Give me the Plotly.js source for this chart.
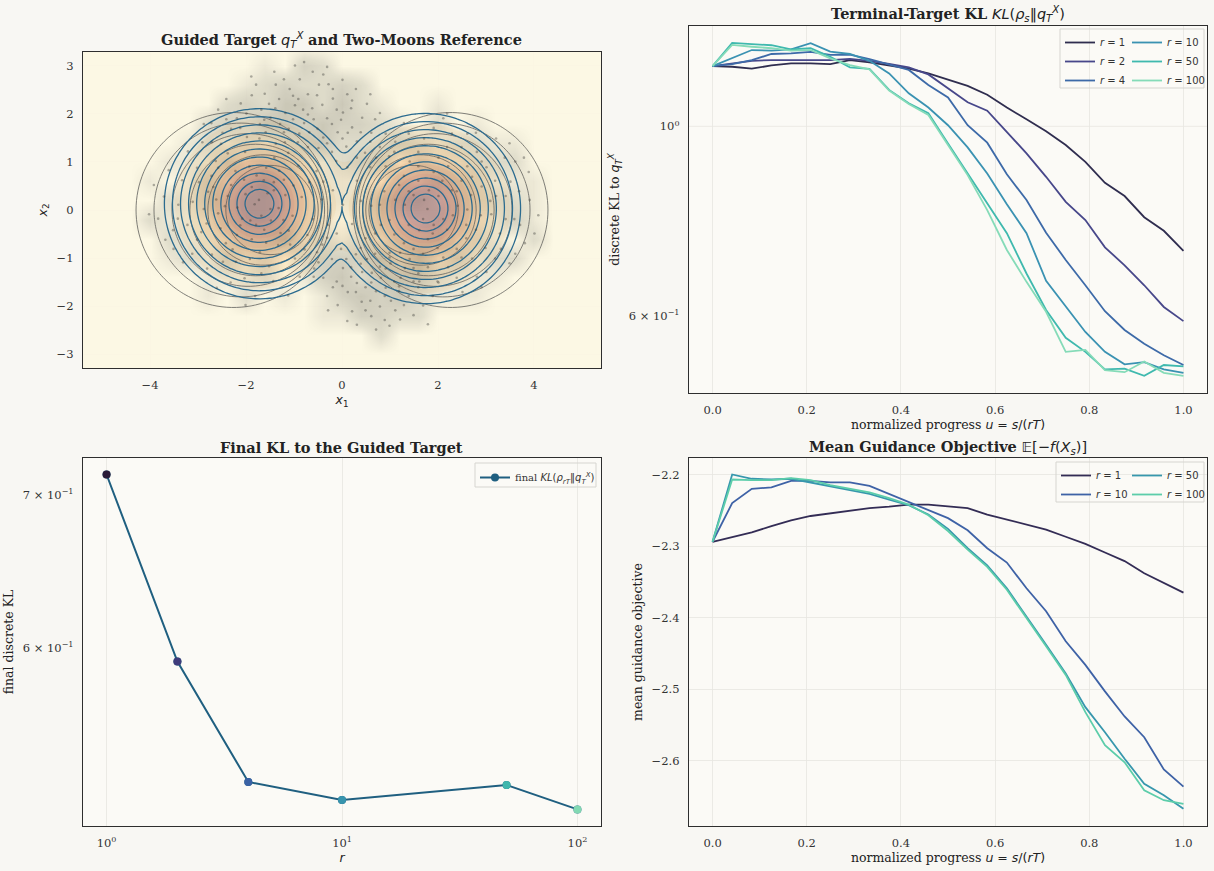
<!DOCTYPE html>
<html><head><meta charset="utf-8">
<script src="https://cdn.plot.ly/plotly-3.0.1.min.js"></script>
<style>html,body{margin:0;padding:0;background:#f8f7f3;}#chart{width:1214px;height:871px;}</style>
</head><body><div id="chart"></div>
<script>
// ---------------- data ----------------
const progressU = [0, 0.0417, 0.0833, 0.125, 0.1667, 0.2083, 0.25, 0.2917, 0.3333, 0.375, 0.4167, 0.4583, 0.5, 0.5417, 0.5833, 0.625, 0.6667, 0.7083, 0.75, 0.7917, 0.8333, 0.875, 0.9167, 0.9583, 1.0];

const klR1   = [1.176,1.174,1.168,1.178,1.185,1.185,1.182,1.195,1.188,1.178,1.168,1.153,1.133,1.115,1.089,1.052,1.019,0.987,0.951,0.909,0.859,0.829,0.783,0.755,0.715];
const klR2   = [1.176,1.185,1.193,1.195,1.195,1.194,1.195,1.199,1.193,1.183,1.172,1.150,1.108,1.067,1.043,0.986,0.930,0.873,0.816,0.777,0.722,0.688,0.652,0.615,0.592];
const klR4   = [1.176,1.182,1.195,1.215,1.217,1.222,1.212,1.213,1.198,1.182,1.164,1.118,1.081,1.003,0.957,0.879,0.820,0.751,0.698,0.652,0.608,0.578,0.557,0.540,0.526];
const klR10  = [1.176,1.201,1.228,1.226,1.230,1.251,1.223,1.215,1.193,1.153,1.093,1.052,1.003,0.945,0.881,0.811,0.750,0.660,0.615,0.575,0.545,0.527,0.530,0.520,0.515];
const klR50  = [1.176,1.252,1.248,1.244,1.230,1.234,1.206,1.172,1.167,1.103,1.064,1.036,0.955,0.881,0.813,0.750,0.673,0.610,0.566,0.545,0.520,0.521,0.511,0.526,0.524];
const klR100 = [1.176,1.245,1.239,1.234,1.226,1.228,1.201,1.179,1.166,1.101,1.062,1.031,0.951,0.877,0.798,0.717,0.658,0.607,0.545,0.548,0.519,0.516,0.531,0.515,0.511];

const objR1   = [-2.294,-2.287,-2.281,-2.272,-2.264,-2.258,-2.254,-2.250,-2.247,-2.245,-2.242,-2.242,-2.244,-2.247,-2.256,-2.263,-2.269,-2.277,-2.287,-2.297,-2.309,-2.321,-2.338,-2.351,-2.365];
const objR10  = [-2.294,-2.240,-2.220,-2.218,-2.209,-2.209,-2.211,-2.211,-2.216,-2.227,-2.239,-2.250,-2.261,-2.278,-2.303,-2.323,-2.359,-2.391,-2.433,-2.466,-2.503,-2.538,-2.567,-2.612,-2.636];
const objR50  = [-2.294,-2.200,-2.206,-2.207,-2.206,-2.211,-2.217,-2.222,-2.227,-2.235,-2.243,-2.256,-2.276,-2.303,-2.327,-2.359,-2.398,-2.438,-2.478,-2.525,-2.560,-2.597,-2.632,-2.648,-2.667];
const objR100 = [-2.294,-2.207,-2.208,-2.208,-2.205,-2.208,-2.215,-2.220,-2.225,-2.233,-2.242,-2.257,-2.279,-2.305,-2.329,-2.361,-2.400,-2.440,-2.480,-2.532,-2.578,-2.602,-2.641,-2.655,-2.660];

const finalR  = [1, 2, 4, 10, 50, 100];
const finalKL = [0.7148, 0.5920, 0.5243, 0.5148, 0.5227, 0.5100];

const modeCenters = [[-1.72, 0.13], [1.74, 0.03]];
const fillSigma = 0.74;
const blueSigma = 0.46;
const moonCore = 0.84;
const moonShift = 0.7;

// approximate sample cloud read from panel 1
const samplePoints = [
[-1.82,0.12],[-1.55,0.35],[-2.08,-0.18],[-1.62,-0.41],[-2.31,0.52],[-1.21,0.63],[-2.58,-0.07],[-1.03,-0.12],[-1.93,0.91],[-1.71,-0.88],[-2.79,0.38],[-0.84,0.27],[-2.42,-0.69],[-1.33,-0.73],[-2.02,1.21],[-1.41,1.09],[-2.93,-0.46],[-0.72,-0.52],[-2.21,-1.08],[-1.12,1.19],[-3.11,0.17],[-0.53,0.81],[-2.63,1.02],[-1.52,-1.17],[-1.88,-0.61],[-2.01,0.33],[-1.63,0.62],[-2.44,0.08],[-1.32,0.04],[-1.11,-0.43],[-2.71,-0.93],[-3.22,-0.31],[-0.91,0.92],[-2.52,1.38],[-1.72,1.49],[-0.98,-1.01],[-2.03,-1.42],[-3.02,0.88],[-0.61,-0.19],[-3.41,0.11],[-1.43,-1.48],[-2.32,-1.51],[-2.81,-1.22],[-1.21,1.62],[-0.71,1.31],[-3.33,0.62],[-3.52,-0.42],[-2.12,1.71],[-1.81,-1.79],[-0.88,-1.39],[-2.61,-1.62],[-3.12,-0.91],[-3.71,0.28],[-0.42,0.22],[-0.52,-0.88],[-2.91,1.41],[-1.62,1.88],[-2.22,0.81],[-1.91,-0.22],[-1.42,0.41],[-2.53,-0.38],[-1.22,-0.21],[-1.73,0.21],[-2.19,-0.52],[-1.49,0.02],[-2.04,0.63],[-1.79,-0.31],[-1.31,0.82],[-2.72,0.71],[-1.01,0.51],[-3.61,0.83],[-3.83,-0.18],[-3.31,-1.09],[-2.41,1.89],[-1.12,-1.78],[-0.31,-0.58],[-3.92,0.52],[-4.02,-0.09],[-2.01,-1.98],[-2.72,1.81],[-3.21,1.22],[-3.51,-0.81],[-1.58,0.88],[-2.38,0.29],[-1.68,-0.12],[-2.18,0.05],[-1.28,-0.48],[-1.92,-1.02],[-2.62,0.22],[-1.38,1.38],[-2.88,0.02],[-0.78,-0.82],[-1.58,-0.68],[-2.48,-1.08],[-0.68,0.58],[-3.02,-0.62],[-2.82,-0.28],[-1.98,1.52],[-1.18,0.31],[-2.28,-0.82],[-1.48,-0.22],[-1.88,0.48],[-2.68,0.48],[-3.42,-0.18],[-0.58,-1.22],[-2.98,0.58],[-3.68,-0.62],[-1.08,-0.72],[-2.38,1.18],[-1.78,0.72],[-1.68,-1.32],[-2.12,-0.32],[-1.42,0.58],[-2.58,0.88],
[-1.52,2.21],[-1.18,2.02],[-0.91,2.31],[-0.62,2.12],[-0.31,1.91],[0.02,2.03],[0.21,1.72],[-0.79,1.81],[-1.09,2.52],[-0.48,2.61],[-0.19,2.32],[0.11,2.41],[0.42,1.92],[0.31,1.43],[-0.09,1.62],[-0.39,1.51],[-0.68,1.62],[-1.29,1.79],[-1.68,2.09],[-1.99,2.01],[-2.31,1.69],[-1.88,2.39],[-1.38,2.61],[-0.88,2.72],[-0.61,2.88],[-0.98,3.01],[-0.28,2.62],[0.01,2.71],[0.52,2.21],[0.61,1.61],[0.79,1.31],[0.48,1.19],[0.09,1.32],[-0.21,1.21],[-0.49,1.29],[-0.92,1.41],[-1.19,1.41],[-1.59,1.62],[-2.49,1.61],[-2.58,2.09],[-1.79,2.61],[-0.71,2.41],[-0.41,2.19],[-0.11,2.09],[0.19,2.12],[-1.02,1.89],[-1.31,2.31],[-0.59,1.89],[-0.21,1.79],[0.01,1.49],[0.29,2.52],[0.69,1.89],[0.91,1.59],[-1.61,2.42],[-2.11,2.22],[-0.81,2.09],[-0.51,1.69],[-1.11,1.69],[0.39,1.62],[-0.31,1.39],[0.98,1.12],[0.71,1.09],[-1.41,2.88],[-0.79,3.08],[-1.21,2.72],[-0.39,2.82],[-2.19,1.91],[-2.71,1.41],[-1.49,1.92],[-0.98,2.18],[-0.71,1.99],[-0.19,2.52],[0.21,2.28],[0.59,2.41],[-1.71,1.79],[-2.41,2.31],[-0.02,1.88],[0.31,1.09],[0.59,1.42],[-0.12,1.02],[0.12,1.61],[-0.89,1.59],[-1.39,2.12],[-1.89,2.78],[-1.02,2.38],[-0.52,2.39],[0.79,2.02],[1.11,1.42],[-2.88,1.79],[-0.31,2.98],
[0.02,-1.21],[0.31,-1.52],[0.62,-1.31],[0.91,-1.62],[1.22,-1.41],[0.41,-1.91],[0.79,-2.01],[0.12,-1.71],[-0.21,-1.02],[-0.39,-1.41],[0.52,-1.02],[1.01,-1.11],[1.39,-1.79],[1.11,-2.09],[0.21,-2.11],[-0.11,-1.49],[0.71,-1.69],[1.31,-1.21],[-0.02,-0.81],[0.29,-0.92],[0.61,-2.21],[1.59,-1.61],[1.49,-2.19],[0.89,-2.29],[-0.31,-1.79],[0.42,-1.29],[0.81,-1.41],[1.02,-1.89],[0.19,-1.39],[-0.09,-1.98],[1.19,-1.69],[0.49,-1.61],[0.09,-1.02],[-0.49,-1.09],[1.69,-1.99],[1.79,-2.38],[0.69,-0.91],[1.41,-1.02],[0.91,-1.22],[0.31,-2.39],[1.09,-1.49],[0.59,-1.89],[-0.19,-1.61],[1.89,-1.79],[0.39,-1.12],[0.99,-2.41],[0.01,-1.58],[-0.41,-0.72],[1.29,-1.98],[0.79,-1.18],[0.19,-1.19],[0.61,-1.51],[1.21,-2.28],[0.11,-2.31],[0.49,-2.09],[1.59,-1.32],[-0.29,-2.09],[0.89,-1.79],[1.49,-1.49],[0.29,-1.71],[0.71,-2.49],[1.99,-1.49],[-0.59,-1.39],[0.99,-0.89],[0.39,-0.79],
[1.78,0.02],[1.49,0.31],[2.11,-0.19],[1.61,-0.42],[2.29,0.41],[1.19,0.52],[2.61,0.01],[0.99,-0.21],[1.91,0.79],[1.69,-0.91],[2.79,-0.41],[0.88,0.39],[2.39,-0.81],[1.29,-0.69],[2.01,1.09],[1.41,1.01],[2.91,0.49],[0.69,-0.49],[2.21,-1.19],[1.09,1.21],[3.11,-0.09],[0.59,0.89],[2.61,0.91],[1.49,-1.21],[1.89,-0.49],[2.01,0.29],[1.59,0.61],[2.41,0.09],[1.31,0.11],[1.09,-0.51],[2.71,-1.01],[3.21,0.29],[0.91,0.91],[2.49,1.31],[1.71,1.49],[0.99,-0.99],[2.01,-1.51],[3.01,0.89],[0.61,0.09],[3.41,-0.19],[1.39,1.59],[2.29,1.59],[2.81,1.21],[1.19,-1.59],[3.51,0.59],[3.71,-0.31],[3.31,-0.81],[3.01,-1.29],[2.51,-1.71],[3.91,0.21],[4.09,-0.11],[3.61,1.01],[2.11,1.91],[3.21,1.49],[2.91,-1.61],[3.49,-1.11],[1.81,0.41],[2.19,-0.41],[1.69,-0.19],[2.49,0.61],[1.39,-0.31],[2.31,-0.11],[1.99,-0.79],[1.59,0.91],[2.69,0.31],[1.29,0.71],[2.89,-0.11],[1.79,-1.19],[2.59,-0.59],[3.19,0.61],[0.79,0.11],[3.29,-0.49],[2.19,1.31],[1.91,1.71],[2.79,1.61],[3.69,0.39],[3.81,-0.69],[2.39,-1.41],[1.49,-0.81],[3.39,1.09],[2.99,-0.79],[1.11,0.21],[2.09,0.61],[1.71,0.21],[2.21,0.91],[2.59,-0.31],[3.59,-0.19],[1.21,-0.89],[1.91,-0.31],[2.49,-0.99],[3.09,0.19],[2.71,0.69],[3.89,0.79],[4.01,-0.49],[3.41,0.29],[1.59,1.21],[2.39,0.39],[1.79,-0.61],[2.11,-0.99],[2.91,1.01],[3.19,-1.01],[1.39,0.39],[0.81,-0.31],[2.61,1.59],[3.49,1.39],[3.79,1.09],[1.61,-1.49],[2.81,-1.39],[3.61,-0.91],[2.19,2.01],[1.29,1.81],
[0.02,0.11],[-0.19,0.41],[0.21,-0.29],[0.31,0.61],[-0.29,-0.31],[0.11,0.89],[0.39,0.19],[-0.11,-0.49],[-0.39,0.59],[0.49,-0.59]
];

const klLabels = ['1','2','4','10','50','100'];
const klColors = ['#2f2d4f','#47478a','#3d6aa8','#3a92b2','#3fb9ae','#85dbb8'];
const objLabels = ['1','10','50','100'];
const objColors = ['#332c55','#3e62a6','#3797ad','#5ccdaa'];
const finalColors = ['#2a1b38','#3f3b7b','#3a62a5','#3794ad','#3fb7ad','#82d9b3'];

// ---------------- contour grids ----------------
const gridX = []; for (let i = 0; i <= 116; i++) gridX.push(+(-5.8 + 0.1*i).toFixed(2));
const gridY = []; for (let j = 0; j <= 72; j++) gridY.push(+(-3.6 + 0.1*j).toFixed(2));

function fillField(x, y) {
  let s = 0;
  for (const c of modeCenters) { const dx = x-c[0], dy = y-c[1]; s += Math.exp(-(dx*dx+dy*dy)/(2*fillSigma*fillSigma)); }
  return s;
}
function blueField(x, y) {
  const a = modeCenters.map(c => { const dx = x-c[0], dy = y-c[1]; return -(dx*dx+dy*dy)/(2*blueSigma*blueSigma); });
  const m = Math.max(...a);
  const lse = m + Math.log(a.reduce((t, v) => t + Math.exp(v-m), 0));
  return Math.sqrt(Math.max(0, -2*blueSigma*blueSigma*lse));
}
function grayField(x, y) {
  const k = moonShift;
  let best = Infinity;
  for (const side of [-1, 1]) {
    const d = side*x - moonCore;
    const rho = (-k*d + Math.sqrt(k*k*d*d + (1-k*k)*(d*d + y*y)))/(1-k*k);
    best = Math.min(best, rho);
  }
  return best;
}
const zFill = gridY.map(y => gridX.map(x => fillField(x, y)));
const zBlue = gridY.map(y => gridX.map(x => blueField(x, y)));
const zGray = gridY.map(y => gridX.map(x => grayField(x, y)));

// ---------------- layout helpers ----------------
const W = 1214, H = 871;
const px = v => v / W, py = v => 1 - v / H;
const xL = [px(83), px(601)], xR = [px(689), px(1207)];
const yTL = [py(368), py(52)], yTR = [py(393), py(26)], yB = [py(826), py(458)];

const SERIF = 'DejaVu Serif', SANS = 'DejaVu Sans';
const m = s => `<span style="font-family:${SANS}">${s}</span>`;

const axisBase = {
  showline: true, mirror: true, linecolor: '#2e2e2e', linewidth: 1.2,
  ticks: '', showgrid: true, gridcolor: '#e7e6e1', gridwidth: 0.8, zeroline: false,
  tickfont: {family: SERIF, size: 11.5, color: '#333'}, automargin: false,
  ticklabelstandoff: 6,
  title: {font: {family: SERIF, size: 12.5, color: '#222'}}
};
const ax = (o) => Object.assign({}, JSON.parse(JSON.stringify(axisBase)), o, {title: Object.assign({}, axisBase.title, o.title || {})});

const traces = [];
// panel 1
traces.push({type: 'contour', x: gridX, y: gridY, z: zFill, xaxis: 'x', yaxis: 'y',
  zmin: 0, zmax: 1.05, showscale: false, opacity: 0.92, hoverinfo: 'skip', showlegend: false,
  contours: {coloring: 'fill', showlines: false, start: 0.06, end: 1.0, size: 0.08},
  colorscale: [[0,'#fdf8e3'],[0.1,'#fdf0d0'],[0.25,'#fbe1b6'],[0.45,'#f6cc9f'],[0.65,'#eeb593'],[0.82,'#dfa595'],[1,'#c9a09c']]});
traces.push({type: 'histogram2dcontour', x: samplePoints.map(p => p[0]), y: samplePoints.map(p => p[1]),
  xaxis: 'x', yaxis: 'y', showscale: false, showlegend: false, hoverinfo: 'skip',
  xbins: {start: -4.6, end: 4.6, size: 0.4}, ybins: {start: -3.2, end: 3.4, size: 0.4},
  contours: {coloring: 'heatmap', showlines: false}, line: {width: 0, smoothing: 1.3},
  colorscale: [[0,'rgba(90,90,85,0)'],[0.12,'rgba(90,90,85,0.05)'],[0.4,'rgba(85,85,80,0.15)'],[1,'rgba(75,75,70,0.28)']]});
traces.push({type: 'scatter', mode: 'markers', x: samplePoints.map(p => p[0]), y: samplePoints.map(p => p[1]),
  xaxis: 'x', yaxis: 'y', showlegend: false, hoverinfo: 'skip',
  marker: {size: 2.6, color: 'rgba(55,55,52,0.38)', line: {width: 0}}});
traces.push({type: 'contour', x: gridX, y: gridY, z: zGray, xaxis: 'x', yaxis: 'y', showscale: false, showlegend: false, hoverinfo: 'skip',
  contours: {coloring: 'none', start: 0.93, end: 2.04, size: 0.22}, line: {color: 'rgba(105,105,100,0.85)', width: 1, smoothing: 1}});
traces.push({type: 'contour', x: gridX, y: gridY, z: zBlue, xaxis: 'x', yaxis: 'y', showscale: false, showlegend: false, hoverinfo: 'skip',
  contours: {coloring: 'none', start: 0.30, end: 1.99, size: 0.168}, line: {color: '#2b6b8f', width: 1.3, smoothing: 1}});

// panel 2
const klSeries = [klR1, klR2, klR4, klR10, klR50, klR100];
klSeries.forEach((s, i) => traces.push({type: 'scatter', mode: 'lines', x: progressU, y: s, xaxis: 'x2', yaxis: 'y2',
  name: `<i>r</i> = ${klLabels[i]}`, legend: i < 3 ? 'legend' : 'legend2',
  line: {color: klColors[i], width: 1.8}}));

// panel 3
traces.push({type: 'scatter', mode: 'lines+markers', x: finalR, y: finalKL, xaxis: 'x3', yaxis: 'y3',
  name: `final ${m('<i>KL</i>(<i>ρ</i><sub><i>rT</i></sub>‖<i>q</i><sub><i>T</i></sub><sup><i>X</i></sup>)')}`, legend: 'legend5',
  line: {color: '#1f5f80', width: 2}, marker: {size: 8, color: '#1f5f80'}});
traces.push({type: 'scatter', mode: 'markers', x: finalR, y: finalKL, xaxis: 'x3', yaxis: 'y3', showlegend: false,
  marker: {size: 8, color: finalColors}});

// panel 4
const objSeries = [objR1, objR10, objR50, objR100];
objSeries.forEach((s, i) => traces.push({type: 'scatter', mode: 'lines', x: progressU, y: s, xaxis: 'x4', yaxis: 'y4',
  name: `<i>r</i> = ${objLabels[i]}`, legend: i < 2 ? 'legend3' : 'legend4',
  line: {color: objColors[i], width: 1.8}}));

const legBase = {xanchor: 'left', yanchor: 'top', bgcolor: 'rgba(0,0,0,0)', borderwidth: 0,
  font: {family: SANS, size: 10, color: '#333'}, tracegroupgap: 0, itemclick: false};
const leg = o => Object.assign({}, legBase, o);

const progTitle = `normalized progress ${m('<i>u</i> = <i>s</i>/(<i>rT</i>)')}`;
const titleFont = {family: SERIF, size: 14.5, color: '#222'};
const ttl = (text, x, y) => ({text, x, y, xref: 'paper', yref: 'paper', showarrow: false, xanchor: 'center', yanchor: 'middle', font: titleFont});

const layout = {
  width: W, height: H, margin: {l: 0, r: 0, t: 0, b: 0},
  paper_bgcolor: '#f8f7f3', plot_bgcolor: '#fbfaf6',
  font: {family: SERIF, color: '#222'},
  xaxis: ax({domain: xL, anchor: 'y', range: [-5.396, 5.396], tickvals: [-4,-2,0,2,4],
    title: {text: m('<i>x</i><sub>1</sub>'), standoff: 4}}),
  yaxis: ax({domain: yTL, anchor: 'x', range: [-3.29, 3.29], tickvals: [-3,-2,-1,0,1,2,3],
    title: {text: m('<i>x</i><sub>2</sub>'), standoff: 6}}),
  xaxis2: ax({domain: xR, anchor: 'y2', range: [-0.05, 1.05], tickvals: [0,0.2,0.4,0.6,0.8,1.0], tickformat: '.1f',
    title: {text: progTitle, standoff: 4}}),
  yaxis2: ax({domain: yTR, anchor: 'x2', type: 'log', range: [-0.3117, 0.1173], showgrid: false,
    tickvals: [0.6, 1], ticktext: ['6 × 10<sup>−1</sup>', '10<sup>0</sup>'],
    title: {text: `discrete KL to ${m('<i>q</i><sub><i>T</i></sub><sup><i>X</i></sup>')}`, standoff: 6}}),
  xaxis3: ax({domain: xL, anchor: 'y3', type: 'log', range: [-0.1, 2.1], tickvals: [1, 10, 100],
    ticktext: ['10<sup>0</sup>', '10<sup>1</sup>', '10<sup>2</sup>'],
    title: {text: m('<i>r</i>'), standoff: 4}}),
  yaxis3: ax({domain: yB, anchor: 'x3', type: 'log', range: [-0.2997, -0.1386], showgrid: false,
    tickvals: [0.6, 0.7], ticktext: ['6 × 10<sup>−1</sup>', '7 × 10<sup>−1</sup>'],
    title: {text: 'final discrete KL', standoff: 6}}),
  xaxis4: ax({domain: xR, anchor: 'y4', range: [-0.05, 1.05], tickvals: [0,0.2,0.4,0.6,0.8,1.0], tickformat: '.1f',
    title: {text: progTitle, standoff: 4}}),
  yaxis4: ax({domain: yB, anchor: 'x4', range: [-2.691, -2.177], tickvals: [-2.6,-2.5,-2.4,-2.3,-2.2], tickformat: '.1f',
    title: {text: 'mean guidance objective', standoff: 6}}),
  legend:  leg({x: px(1060), y: py(28)}),
  legend2: leg({x: px(1127), y: py(28)}),
  legend3: leg({x: px(1056), y: py(461)}),
  legend4: leg({x: px(1127), y: py(461)}),
  legend5: leg({x: px(475), y: py(463), font: {family: SERIF, size: 10, color: '#333'}}),
  shapes: [
    {type: 'line', xref: 'x2 domain', yref: 'y2 domain', x0: 0, x1: 1, y0: 0.7266, y1: 0.7266, layer: 'below',
      line: {color: '#e7e6e1', width: 0.8}},
    {type: 'rect', xref: 'paper', yref: 'paper', x0: px(1060), x1: px(1204), y0: py(29), y1: py(88), layer: 'above',
      line: {color: '#d6d5d0', width: 1}, fillcolor: 'rgba(251,250,246,0.0)'},
    {type: 'rect', xref: 'paper', yref: 'paper', x0: px(1056), x1: px(1204), y0: py(462), y1: py(502), layer: 'above',
      line: {color: '#d6d5d0', width: 1}, fillcolor: 'rgba(251,250,246,0.0)'},
    {type: 'rect', xref: 'paper', yref: 'paper', x0: px(475), x1: px(596), y0: py(463), y1: py(487), layer: 'above',
      line: {color: '#d6d5d0', width: 1}, fillcolor: 'rgba(251,250,246,0.0)'}
  ],
  annotations: [
    ttl(`<b>Guided Target</b> ${m('<i>q</i><sub><i>T</i></sub><sup><i>X</i></sup>')} <b>and Two-Moons Reference</b>`, (xL[0]+xL[1])/2, py(40)),
    ttl(`<b>Terminal-Target KL</b> ${m('<i>KL</i>(<i>ρ</i><sub><i>s</i></sub>‖<i>q</i><sub><i>T</i></sub><sup><i>X</i></sup>)')}`, (xR[0]+xR[1])/2, py(14)),
    ttl('<b>Final KL to the Guided Target</b>', (xL[0]+xL[1])/2, py(447)),
    ttl(`<b>Mean Guidance Objective</b> ${m('𝔼[−<i>f</i>(<i>X</i><sub><i>s</i></sub>)]')}`, (xR[0]+xR[1])/2, py(447))
  ]
};

Plotly.newPlot('chart', traces, layout, {displayModeBar: false, staticPlot: true});
</script></body></html>
